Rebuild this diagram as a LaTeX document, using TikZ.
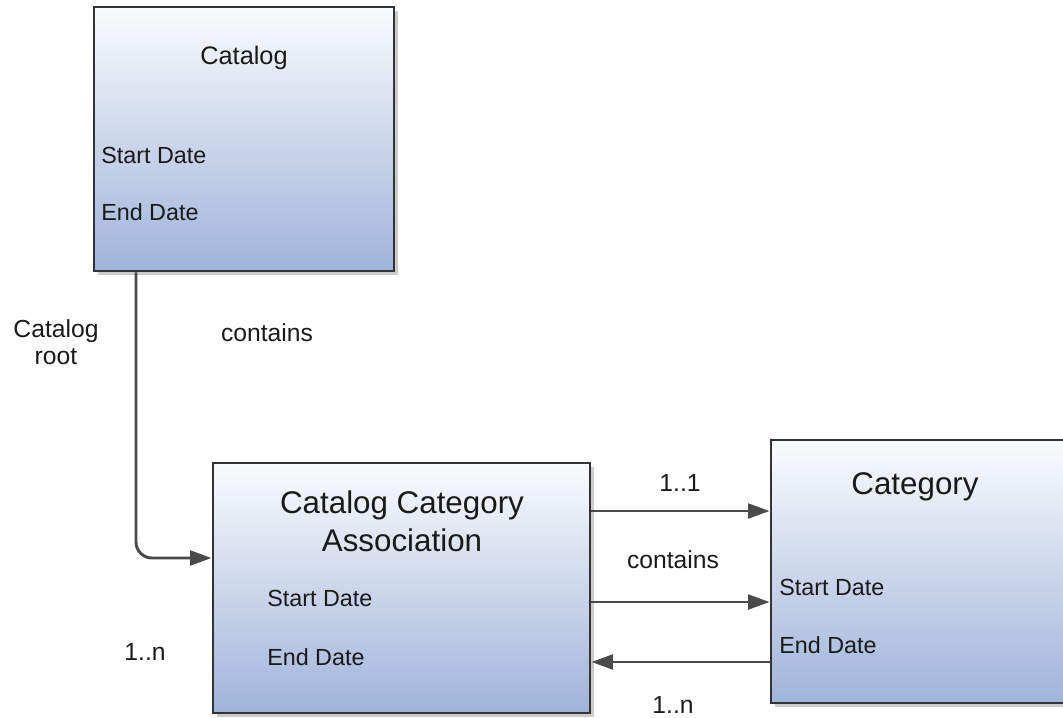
\documentclass[tikz,border=0pt]{standalone}
\usepackage{fontspec}
\setmainfont{Liberation Sans}
\usepackage{xcolor}
\definecolor{boxtop}{HTML}{FAFBFD}
\definecolor{boxbot}{HTML}{9FB3DA}
\definecolor{edge}{HTML}{333333}
\definecolor{linkgray}{HTML}{4A4A4A}
\definecolor{ink}{HTML}{1A1A1A}
\usetikzlibrary{arrows.meta,shadows}

\tikzset{
  entity/.style={draw=edge, line width=2.2pt, top color=boxtop, bottom color=boxbot,
    drop shadow={shadow xshift=3pt, shadow yshift=-3pt, fill=black!45, opacity=0.45}},
  attr/.style={anchor=west, inner sep=0pt, text=ink, font=\fontsize{17.5}{21}\selectfont},
  title/.style={align=center, inner sep=0pt, text=ink, font=\fontsize{23.5}{28.5}\selectfont},
  lbl/.style={align=center, inner sep=0pt, text=ink, font=\fontsize{18.5}{20.5}\selectfont},
  link/.style={draw=linkgray, line width=2.2pt, -{Triangle[length=16pt, width=11pt]}}
}

\begin{document}
\begin{tikzpicture}[x=0.75pt, y=-0.75pt]
  \useasboundingbox (0,0) rectangle (1063,717);

  % Boxes
  \node[entity, minimum width=225pt, minimum height=198pt] (catalog) at (244,139) {};
  \node[entity, minimum width=282.75pt, minimum height=187.5pt] (cca) at (401.5,588) {};
  \node[entity, minimum width=239.25pt, minimum height=197.25pt] (category) at (930.5,571.5) {};

  % Catalog
  \node[title, font=\fontsize{19}{22}\selectfont] (catname) at (244,58) {Catalog};
  \node[attr] (catstart) at (101,155) {Start Date};
  \node[attr] (catend) at (101,212) {End Date};

  % Catalog Category Association
  \node[title] (ccaname) at (402,521) {Catalog Category\\Association};
  \node[attr] (ccastart) at (267,598) {Start Date};
  \node[attr] (ccaend) at (267,657) {End Date};

  % Category
  \node[title] (catgname) at (915,487) {Category};
  \node[attr] (catgstart) at (779,587) {Start Date};
  \node[attr] (catgend) at (779,645) {End Date};

  % Connectors
  \coordinate (bend) at (136,558);
  \draw[link, rounded corners=12pt] (catalog.south -| bend) -- (bend) -- (cca.west |- bend);
  \draw[link] (cca.east |- 0,511) -- (category.west |- 0,511);
  \draw[link] (cca.east |- 0,602) -- (category.west |- 0,602);
  \draw[link] (category.west |- 0,662) -- (cca.east |- 0,662);

  % Labels
  \node[lbl] (rootlbl) at (56,342) {Catalog\\root};
  \node[lbl] (containsa) at (267,333) {contains};
  \node[lbl] (manya) at (145,652) {1..n};
  \node[lbl] (onetoone) at (680,483) {1..1};
  \node[lbl] (containsb) at (673,560) {contains};
  \node[lbl] (manyb) at (673,705) {1..n};
\end{tikzpicture}
\end{document}
